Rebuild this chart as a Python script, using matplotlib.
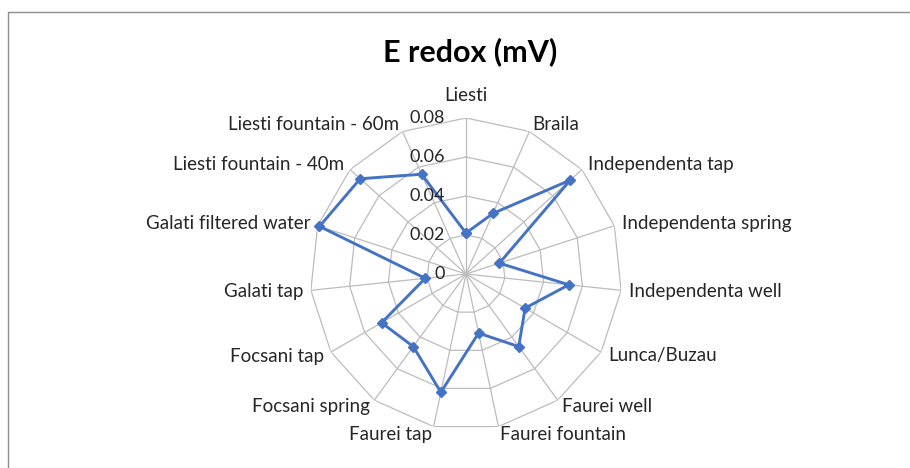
import numpy as np
import matplotlib.pyplot as plt
from matplotlib.patches import Rectangle

plt.rcParams['font.family'] = ['Lato', 'DejaVu Sans']

categories = ['Liesti', 'Braila', 'Independenta tap', 'Independenta spring',
              'Independenta well', 'Lunca/Buzau', 'Faurei well', 'Faurei fountain',
              'Faurei tap', 'Focsani spring', 'Focsani tap', 'Galati tap',
              'Galati filtered water', 'Liesti fountain - 40m', 'Liesti fountain - 60m']
values = [0.021, 0.034, 0.072, 0.018, 0.053, 0.035, 0.046, 0.031,
          0.062, 0.046, 0.050, 0.021, 0.079, 0.073, 0.056]
ticks = [0, 0.02, 0.04, 0.06, 0.08]
tick_labels = ['0', '0.02', '0.04', '0.06', '0.08']

W, H = 910, 468
fig = plt.figure(figsize=(W / 100, H / 100), dpi=100)

# chart border (runs off the right and bottom edges)
fig.patches.append(Rectangle((8 / W, -0.1), 1.2, 456 / H + 0.1, transform=fig.transFigure,
                             fill=False, edgecolor='#8c8c8c', linewidth=1.0))

cx, cy, R = 466, 274, 156
ax = fig.add_axes([(cx - R) / W, (H - cy - R) / H, 2 * R / W, 2 * R / H], polar=True)
ax.set_theta_zero_location('N')
ax.set_theta_direction(-1)
ax.set_ylim(0, 0.08)
ax.axis('off')

n = len(categories)
angles = np.arange(n) * 2 * np.pi / n
closed = np.append(angles, angles[0])

grid_col = '#bcbcbc'
for t in ticks[1:]:
    ax.plot(closed, [t] * (n + 1), color=grid_col, lw=0.9, zorder=1)
for a in angles:
    ax.plot([a, a], [0, 0.08], color=grid_col, lw=0.9, zorder=1)

ax.plot(closed, values + values[:1], color='#4472C4', lw=2.1, marker='D',
        markersize=5.2, zorder=3, clip_on=False)

# radial value labels
for t, lab in zip(ticks, tick_labels):
    ax.annotate(lab, xy=(0, t), xytext=(-15, 0), textcoords='offset points',
                ha='right', va='center', fontsize=13, color='#262626')

# category labels
d = 8 * 0.72
for a, lab in zip(angles, categories):
    s, c = np.sin(a), np.cos(a)
    if abs(s) < 0.1:
        ha = 'center'
        va = 'bottom' if c > 0 else 'top'
        off = (0, 10 if c > 0 else -10)
    else:
        ha = 'left' if s > 0 else 'right'
        va = 'center'
        off = (d * s, d * c)
    ax.annotate(lab, xy=(a, 0.08), xytext=off, textcoords='offset points',
                ha=ha, va=va, fontsize=13.5, color='#262626', annotation_clip=False)

fig.text(470 / W, 1 - 52 / H, 'E redox (mV)', ha='center', va='center',
         fontsize=22, fontweight='bold', color='black')

fig.savefig('out.png', dpi=100)
